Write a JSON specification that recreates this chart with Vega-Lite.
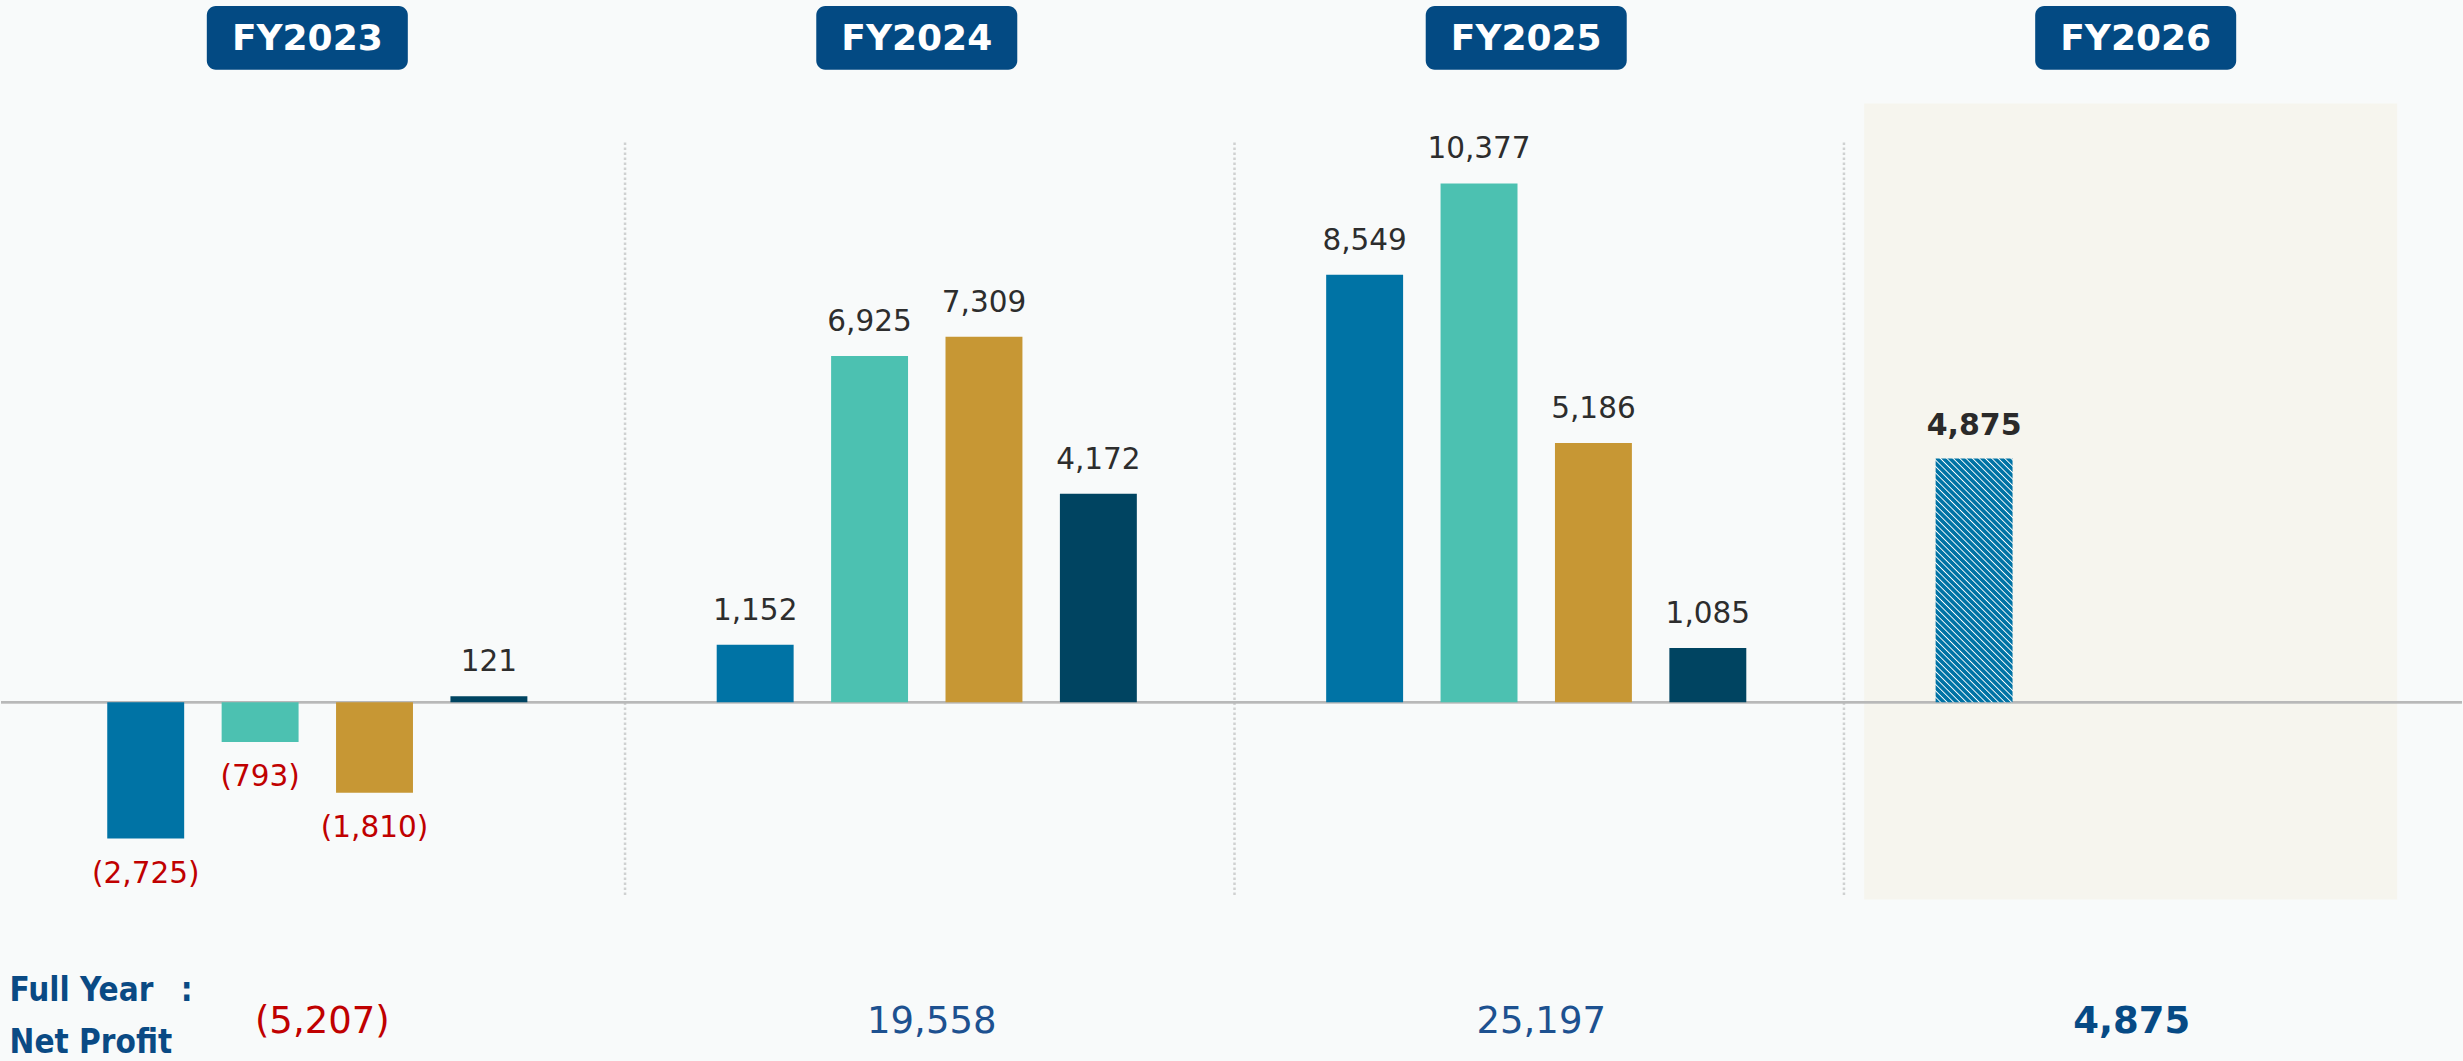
{
  "$schema": "https://vega.github.io/schema/vega-lite/v6.json",
  "width": 2463,
  "height": 1061,
  "padding": 0,
  "autosize": {"type": "fit", "contains": "padding"},
  "background": "#f8fafa",
  "config": {"view": {"stroke": null}, "axis": {"domain": false, "grid": false, "ticks": false, "labels": false, "title": null}},
  "datasets": {
    "bars": [
      {"year": "FY2023", "quarter": "Q1", "value": -2725},
      {"year": "FY2023", "quarter": "Q2", "value": -793},
      {"year": "FY2023", "quarter": "Q3", "value": -1810},
      {"year": "FY2023", "quarter": "Q4", "value": 121},
      {"year": "FY2024", "quarter": "Q1", "value": 1152},
      {"year": "FY2024", "quarter": "Q2", "value": 6925},
      {"year": "FY2024", "quarter": "Q3", "value": 7309},
      {"year": "FY2024", "quarter": "Q4", "value": 4172},
      {"year": "FY2025", "quarter": "Q1", "value": 8549},
      {"year": "FY2025", "quarter": "Q2", "value": 10377},
      {"year": "FY2025", "quarter": "Q3", "value": 5186},
      {"year": "FY2025", "quarter": "Q4", "value": 1085},
      {"year": "FY2026", "quarter": "Q1", "value": 4875}
    ],
    "years": [
      {"year": "FY2023"},
      {"year": "FY2024"},
      {"year": "FY2025"},
      {"year": "FY2026"}
    ]
  },
  "layer": [
    {
      "data": {"name": "years"},
      "transform": [{"filter": "datum.year === 'FY2026'"}],
      "mark": {"type": "bar", "width": 533, "xOffset": -15, "color": "#f6f5ee"},
      "encoding": {
        "x": {"field": "year", "type": "nominal", "axis": null, "scale": {"domain": ["FY2023", "FY2024", "FY2025", "FY2026"], "paddingInner": 0, "paddingOuter": 0.019}},
        "y": {"datum": 11972, "type": "quantitative", "axis": null, "scale": {"domain": [-7092, 14044], "nice": false, "zero": false}},
        "y2": {"datum": -3945}
      }
    },
    {
      "data": {"name": "years"},
      "transform": [{"filter": "datum.year !== 'FY2023'"}],
      "mark": {"type": "rule", "color": "#cfd1d1", "strokeWidth": 2.5, "strokeDash": [2.5, 2.5], "xOffset": 3},
      "encoding": {
        "x": {"field": "year", "type": "nominal", "axis": null, "bandPosition": 0},
        "y": {"datum": 11195, "type": "quantitative"},
        "y2": {"datum": -3885}
      }
    },
    {
      "data": {"name": "years"},
      "mark": {"type": "rule", "color": "#b8b9b9", "strokeWidth": 2},
      "encoding": {
        "y": {"datum": 0, "type": "quantitative"}
      }
    },
    {
      "data": {"name": "bars"},
      "transform": [{"filter": "datum.year !== 'FY2026'"}],
      "mark": {"type": "bar"},
      "encoding": {
        "x": {"field": "year", "type": "nominal", "axis": null},
        "xOffset": {"field": "quarter", "type": "nominal", "scale": {"domain": ["Q1", "Q2", "Q3", "Q4"], "paddingInner": 0.3275, "paddingOuter": 0.8275}},
        "y": {"field": "value", "type": "quantitative"},
        "y2": {"datum": 0},
        "color": {"field": "quarter", "type": "nominal", "legend": null, "scale": {"domain": ["Q1", "Q2", "Q3", "Q4"], "range": ["#0073a5", "#4cc1b1", "#c79734", "#004461"]}}
      }
    },
    {
      "data": {"name": "bars"},
      "transform": [{"filter": "datum.year === 'FY2026'"}],
      "mark": {
        "type": "bar",
        "fill": {
          "gradient": "linear", "x1": 0, "y1": 1, "x2": 0.376, "y2": -0.1961,
          "stops": [
            {"offset": 0, "color": "#0073a5"}, {"offset": 0.012, "color": "#0073a5"}, {"offset": 0.016, "color": "#ffffff"},
            {"offset": 0.02, "color": "#0073a5"}, {"offset": 0.032, "color": "#0073a5"}, {"offset": 0.036, "color": "#ffffff"},
            {"offset": 0.04, "color": "#0073a5"}, {"offset": 0.052, "color": "#0073a5"}, {"offset": 0.056, "color": "#ffffff"},
            {"offset": 0.06, "color": "#0073a5"}, {"offset": 0.072, "color": "#0073a5"}, {"offset": 0.076, "color": "#ffffff"},
            {"offset": 0.08, "color": "#0073a5"}, {"offset": 0.092, "color": "#0073a5"}, {"offset": 0.096, "color": "#ffffff"},
            {"offset": 0.1, "color": "#0073a5"}, {"offset": 0.112, "color": "#0073a5"}, {"offset": 0.116, "color": "#ffffff"},
            {"offset": 0.12, "color": "#0073a5"}, {"offset": 0.132, "color": "#0073a5"}, {"offset": 0.136, "color": "#ffffff"},
            {"offset": 0.14, "color": "#0073a5"}, {"offset": 0.152, "color": "#0073a5"}, {"offset": 0.156, "color": "#ffffff"},
            {"offset": 0.16, "color": "#0073a5"}, {"offset": 0.172, "color": "#0073a5"}, {"offset": 0.176, "color": "#ffffff"},
            {"offset": 0.18, "color": "#0073a5"}, {"offset": 0.192, "color": "#0073a5"}, {"offset": 0.196, "color": "#ffffff"},
            {"offset": 0.2, "color": "#0073a5"}, {"offset": 0.212, "color": "#0073a5"}, {"offset": 0.216, "color": "#ffffff"},
            {"offset": 0.22, "color": "#0073a5"}, {"offset": 0.232, "color": "#0073a5"}, {"offset": 0.236, "color": "#ffffff"},
            {"offset": 0.24, "color": "#0073a5"}, {"offset": 0.252, "color": "#0073a5"}, {"offset": 0.256, "color": "#ffffff"},
            {"offset": 0.26, "color": "#0073a5"}, {"offset": 0.272, "color": "#0073a5"}, {"offset": 0.276, "color": "#ffffff"},
            {"offset": 0.28, "color": "#0073a5"}, {"offset": 0.292, "color": "#0073a5"}, {"offset": 0.296, "color": "#ffffff"},
            {"offset": 0.3, "color": "#0073a5"}, {"offset": 0.312, "color": "#0073a5"}, {"offset": 0.316, "color": "#ffffff"},
            {"offset": 0.32, "color": "#0073a5"}, {"offset": 0.332, "color": "#0073a5"}, {"offset": 0.336, "color": "#ffffff"},
            {"offset": 0.34, "color": "#0073a5"}, {"offset": 0.352, "color": "#0073a5"}, {"offset": 0.356, "color": "#ffffff"},
            {"offset": 0.36, "color": "#0073a5"}, {"offset": 0.372, "color": "#0073a5"}, {"offset": 0.376, "color": "#ffffff"},
            {"offset": 0.38, "color": "#0073a5"}, {"offset": 0.392, "color": "#0073a5"}, {"offset": 0.396, "color": "#ffffff"},
            {"offset": 0.4, "color": "#0073a5"}, {"offset": 0.412, "color": "#0073a5"}, {"offset": 0.416, "color": "#ffffff"},
            {"offset": 0.42, "color": "#0073a5"}, {"offset": 0.432, "color": "#0073a5"}, {"offset": 0.436, "color": "#ffffff"},
            {"offset": 0.44, "color": "#0073a5"}, {"offset": 0.452, "color": "#0073a5"}, {"offset": 0.456, "color": "#ffffff"},
            {"offset": 0.46, "color": "#0073a5"}, {"offset": 0.472, "color": "#0073a5"}, {"offset": 0.476, "color": "#ffffff"},
            {"offset": 0.48, "color": "#0073a5"}, {"offset": 0.492, "color": "#0073a5"}, {"offset": 0.496, "color": "#ffffff"},
            {"offset": 0.5, "color": "#0073a5"}, {"offset": 0.512, "color": "#0073a5"}, {"offset": 0.516, "color": "#ffffff"},
            {"offset": 0.52, "color": "#0073a5"}, {"offset": 0.532, "color": "#0073a5"}, {"offset": 0.536, "color": "#ffffff"},
            {"offset": 0.54, "color": "#0073a5"}, {"offset": 0.552, "color": "#0073a5"}, {"offset": 0.556, "color": "#ffffff"},
            {"offset": 0.56, "color": "#0073a5"}, {"offset": 0.572, "color": "#0073a5"}, {"offset": 0.576, "color": "#ffffff"},
            {"offset": 0.58, "color": "#0073a5"}, {"offset": 0.592, "color": "#0073a5"}, {"offset": 0.596, "color": "#ffffff"},
            {"offset": 0.6, "color": "#0073a5"}, {"offset": 0.612, "color": "#0073a5"}, {"offset": 0.616, "color": "#ffffff"},
            {"offset": 0.62, "color": "#0073a5"}, {"offset": 0.632, "color": "#0073a5"}, {"offset": 0.636, "color": "#ffffff"},
            {"offset": 0.64, "color": "#0073a5"}, {"offset": 0.652, "color": "#0073a5"}, {"offset": 0.656, "color": "#ffffff"},
            {"offset": 0.66, "color": "#0073a5"}, {"offset": 0.672, "color": "#0073a5"}, {"offset": 0.676, "color": "#ffffff"},
            {"offset": 0.68, "color": "#0073a5"}, {"offset": 0.692, "color": "#0073a5"}, {"offset": 0.696, "color": "#ffffff"},
            {"offset": 0.7, "color": "#0073a5"}, {"offset": 0.712, "color": "#0073a5"}, {"offset": 0.716, "color": "#ffffff"},
            {"offset": 0.72, "color": "#0073a5"}, {"offset": 0.732, "color": "#0073a5"}, {"offset": 0.736, "color": "#ffffff"},
            {"offset": 0.74, "color": "#0073a5"}, {"offset": 0.752, "color": "#0073a5"}, {"offset": 0.756, "color": "#ffffff"},
            {"offset": 0.76, "color": "#0073a5"}, {"offset": 0.772, "color": "#0073a5"}, {"offset": 0.776, "color": "#ffffff"},
            {"offset": 0.78, "color": "#0073a5"}, {"offset": 0.792, "color": "#0073a5"}, {"offset": 0.796, "color": "#ffffff"},
            {"offset": 0.8, "color": "#0073a5"}, {"offset": 0.812, "color": "#0073a5"}, {"offset": 0.816, "color": "#ffffff"},
            {"offset": 0.82, "color": "#0073a5"}, {"offset": 0.832, "color": "#0073a5"}, {"offset": 0.836, "color": "#ffffff"},
            {"offset": 0.84, "color": "#0073a5"}, {"offset": 0.852, "color": "#0073a5"}, {"offset": 0.856, "color": "#ffffff"},
            {"offset": 0.86, "color": "#0073a5"}, {"offset": 0.872, "color": "#0073a5"}, {"offset": 0.876, "color": "#ffffff"},
            {"offset": 0.88, "color": "#0073a5"}, {"offset": 0.892, "color": "#0073a5"}, {"offset": 0.896, "color": "#ffffff"},
            {"offset": 0.9, "color": "#0073a5"}, {"offset": 0.912, "color": "#0073a5"}, {"offset": 0.916, "color": "#ffffff"},
            {"offset": 0.92, "color": "#0073a5"}, {"offset": 0.932, "color": "#0073a5"}, {"offset": 0.936, "color": "#ffffff"},
            {"offset": 0.94, "color": "#0073a5"}, {"offset": 0.952, "color": "#0073a5"}, {"offset": 0.956, "color": "#ffffff"},
            {"offset": 0.96, "color": "#0073a5"}, {"offset": 0.972, "color": "#0073a5"}, {"offset": 0.976, "color": "#ffffff"},
            {"offset": 0.98, "color": "#0073a5"}, {"offset": 0.992, "color": "#0073a5"}, {"offset": 0.996, "color": "#ffffff"},
            {"offset": 1, "color": "#0073a5"}
          ]
        }
      },
      "encoding": {
        "x": {"field": "year", "type": "nominal", "axis": null},
        "xOffset": {"field": "quarter", "type": "nominal"},
        "y": {"field": "value", "type": "quantitative"},
        "y2": {"datum": 0}
      }
    },
    {
      "data": {"name": "bars"},
      "transform": [{"filter": "datum.value >= 0 && datum.year !== 'FY2026'"}],
      "mark": {"type": "text", "font": "DejaVu Sans", "fontSize": 29.5, "baseline": "alphabetic", "dy": -25, "color": "#2d2d2d"},
      "encoding": {
        "x": {"field": "year", "type": "nominal", "axis": null},
        "xOffset": {"field": "quarter", "type": "nominal"},
        "y": {"field": "value", "type": "quantitative"},
        "text": {"field": "value", "type": "quantitative", "format": "(,d"}
      }
    },
    {
      "data": {"name": "bars"},
      "transform": [{"filter": "datum.value < 0"}],
      "mark": {"type": "text", "font": "DejaVu Sans", "fontSize": 29.5, "baseline": "alphabetic", "dy": 44, "color": "#c00000"},
      "encoding": {
        "x": {"field": "year", "type": "nominal", "axis": null},
        "xOffset": {"field": "quarter", "type": "nominal"},
        "y": {"field": "value", "type": "quantitative"},
        "text": {"field": "value", "type": "quantitative", "format": "(,d"}
      }
    },
    {
      "data": {"name": "bars"},
      "transform": [{"filter": "datum.year === 'FY2026'"}],
      "mark": {"type": "text", "font": "DejaVu Sans", "fontSize": 30, "fontWeight": "bold", "baseline": "alphabetic", "dy": -24, "color": "#2a2a2a"},
      "encoding": {
        "x": {"field": "year", "type": "nominal", "axis": null},
        "xOffset": {"field": "quarter", "type": "nominal"},
        "y": {"field": "value", "type": "quantitative"},
        "text": {"field": "value", "type": "quantitative", "format": "(,d"}
      }
    },
    {
      "data": {"name": "years"},
      "mark": {"type": "bar", "width": 201, "xOffset": -10, "cornerRadius": 9, "color": "#034a83"},
      "encoding": {
        "x": {"field": "year", "type": "nominal", "axis": null},
        "y": {"datum": 13924, "type": "quantitative"},
        "y2": {"datum": 12650}
      }
    },
    {
      "data": {"name": "years"},
      "mark": {"type": "text", "font": "DejaVu Sans", "fontSize": 36, "fontWeight": "bold", "baseline": "alphabetic", "dx": -10, "color": "#ffffff"},
      "encoding": {
        "x": {"field": "year", "type": "nominal", "axis": null},
        "y": {"datum": 13048, "type": "quantitative"},
        "text": {"field": "year", "type": "nominal"}
      }
    },
    {
      "data": {"name": "bars"},
      "transform": [
        {"filter": "datum.year !== 'FY2026'"},
        {"aggregate": [{"op": "sum", "field": "value", "as": "total"}], "groupby": ["year"]}
      ],
      "mark": {"type": "text", "font": "DejaVu Sans", "fontSize": 37, "baseline": "alphabetic", "dx": 5},
      "encoding": {
        "x": {"field": "year", "type": "nominal", "axis": null},
        "y": {"datum": -6614, "type": "quantitative"},
        "text": {"field": "total", "type": "quantitative", "format": "(,d"},
        "color": {"condition": {"test": "datum.total < 0", "value": "#c00000"}, "value": "#1d5190"}
      }
    },
    {
      "data": {"name": "bars"},
      "transform": [
        {"filter": "datum.year === 'FY2026'"},
        {"aggregate": [{"op": "sum", "field": "value", "as": "total"}], "groupby": ["year"]}
      ],
      "mark": {"type": "text", "font": "DejaVu Sans", "fontSize": 37, "fontWeight": "bold", "baseline": "alphabetic", "dx": -14, "color": "#064a85"},
      "encoding": {
        "x": {"field": "year", "type": "nominal", "axis": null},
        "y": {"datum": -6614, "type": "quantitative"},
        "text": {"field": "total", "type": "quantitative", "format": "(,d"}
      }
    },
    {
      "data": {"name": "years"},
      "transform": [{"filter": "datum.year === 'FY2023'"}],
      "mark": {"type": "text", "font": "DejaVu Sans Condensed, DejaVu Sans", "fontSize": 33, "fontWeight": "bold", "baseline": "alphabetic", "align": "left", "dx": -3, "lineHeight": 52, "color": "#0a4a84", "text": ["Full Year", "Net Profit"]},
      "encoding": {
        "x": {"field": "year", "type": "nominal", "axis": null, "bandPosition": 0},
        "y": {"datum": -5977, "type": "quantitative"}
      }
    },
    {
      "data": {"name": "years"},
      "transform": [{"filter": "datum.year === 'FY2023'"}],
      "mark": {"type": "text", "font": "DejaVu Sans Condensed, DejaVu Sans", "fontSize": 33, "fontWeight": "bold", "baseline": "alphabetic", "align": "center", "dx": 174, "color": "#0a4a84", "text": ":"},
      "encoding": {
        "x": {"field": "year", "type": "nominal", "axis": null, "bandPosition": 0},
        "y": {"datum": -5977, "type": "quantitative"}
      }
    }
  ]
}
